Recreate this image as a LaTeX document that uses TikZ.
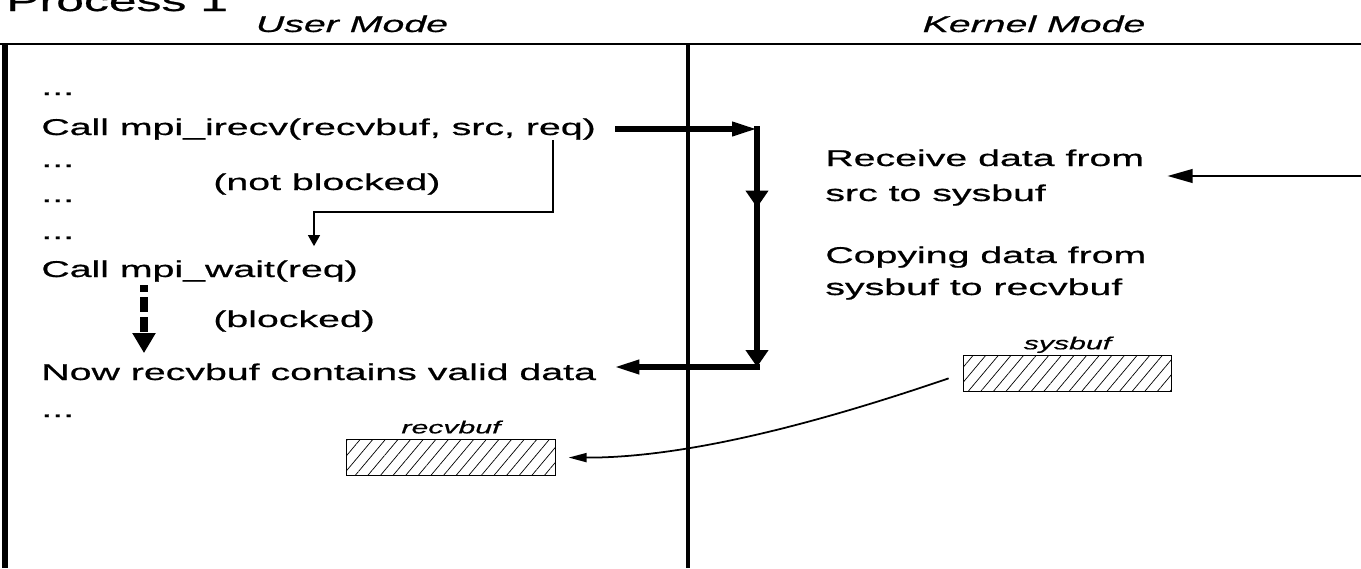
\documentclass[tikz,border=0pt]{standalone}
\usepackage{fontspec}
\setmainfont{Liberation Sans}[FakeStretch=1.72, FakeBold=0.7]
\usetikzlibrary{arrows.meta, decorations.markings, patterns.meta}

\tikzset{
  hh/.tip={Triangle[length=0.5cm, width=0.27cm]},
  vv/.tip={Triangle[length=0.34cm, width=0.44cm]},
  tt/.tip={Triangle[length=0.22cm, width=0.24cm]},
  cc/.tip={Triangle[length=0.36cm, width=0.18cm]}
}

\begin{document}
\begin{tikzpicture}[x=0.02cm, y=-0.02cm,
  title/.style={font=\fontsize{16.5}{18}\selectfont, inner sep=0pt, anchor=base west},
  mode/.style={font=\itshape\fontsize{13}{16}\selectfont, inner sep=0pt, anchor=base},
  code/.style={font=\fontsize{13}{16}\selectfont, inner sep=0pt, anchor=base west},
  buffer/.style={draw, line width=0.5pt, minimum width=4.17cm, minimum height=0.72cm,
    inner sep=0pt, pattern={Lines[angle=50, distance=5.5pt, line width=0.4pt]}},
  buflabel/.style={font=\itshape\fontsize{10}{12}\selectfont, inner sep=0pt},
  flow/.style={line width=3pt, line cap=rect},
  midflow/.style={postaction=decorate,
    decoration={markings, mark=at position 0.33 with {\arrow{vv}}}},
  notify/.style={-tt, line width=0.7pt},
  waiting/.style={-{Triangle[length=0.4cm, width=0.44cm]}, line width=4pt,
    dash pattern=on 0.3cm off 0.1cm, dash phase=0.16cm},
  incoming/.style={-hh, line width=1.3pt},
  copying/.style={-cc, line width=1pt}
]
  \useasboundingbox (0,0) rectangle (1361,568);
  \clip (0,0) rectangle (1361,568);

  % frame
  \draw[line width=1pt] (0,44) -- (1361,44);
  \draw[line width=3.2pt] (5,44) -- (5,568);
  \draw[line width=2pt] (688,44) -- (688,568);

  \node[title] (proc) at (6,11) {Process 1};
  \node[mode] (user) at (352,32) {User Mode};
  \node[mode] (kernel) at (1034,32) {Kernel Mode};

  % user mode
  \node[code] (d1) at (41,95) {...};
  \node[code] (irecv) at (41,135) {Call mpi\_irecv(recvbuf, src, req)};
  \node[code] (d2) at (41,167) {...};
  \node[code] (notblk) at (213,190) {(not blocked)};
  \node[code] (d3) at (41,202) {...};
  \node[code] (d4) at (41,239) {...};
  \node[code] (wait) at (41,277) {Call mpi\_wait(req)};
  \node[code] (blk) at (213,327) {(blocked)};
  \node[code] (nowdata) at (41,380) {Now recvbuf contains valid data};
  \node[code] (d5) at (41,417) {...};
  \node[buffer, label={[buflabel, label distance=3pt]above:recvbuf}] (recvbox) at (451,457.5) {};

  % kernel mode
  \node[code] (rcv1) at (825,166) {Receive data from};
  \node[code] (rcv2) at (825,201) {src to sysbuf};
  \node[code] (cpy1) at (825,263) {Copying data from};
  \node[code] (cpy2) at (825,295) {sysbuf to recvbuf};
  \node[buffer, label={[buflabel, label distance=1pt]above:sysbuf}] (sysbox) at (1067.5,373.5) {};

  \coordinate (c1) at (757,129);
  \coordinate (c2) at (757,367);
  \coordinate (reqx) at (553,212);
  \coordinate (bend) at (314,212);
  \coordinate (dashx) at (144,0);
  \coordinate (srcin) at (1361,176);

  \draw[flow, -hh, shorten <=0.42cm] (c1 -| irecv.east) -- (c1);
  \draw[flow, -vv, midflow] (c1) -- (c2);
  \draw[flow, -hh, shorten >=0.36cm] (c2) -- (c2 -| nowdata.east);
  \draw[notify, shorten >=0.28cm] (irecv.south -| reqx) -- (reqx) -- (bend) -- (wait.north -| bend);
  \draw[waiting, shorten <=0.06cm, shorten >=0.2cm] (wait.south -| dashx) -- (nowdata.north -| dashx);
  \draw[incoming, shorten >=0.46cm] (srcin) -- (srcin -| rcv1.east);
  \draw[copying, shorten <=0.3cm, shorten >=0.26cm] (sysbox.west) .. controls (850,412) and (700,458) .. (recvbox.east);
\end{tikzpicture}
\end{document}
